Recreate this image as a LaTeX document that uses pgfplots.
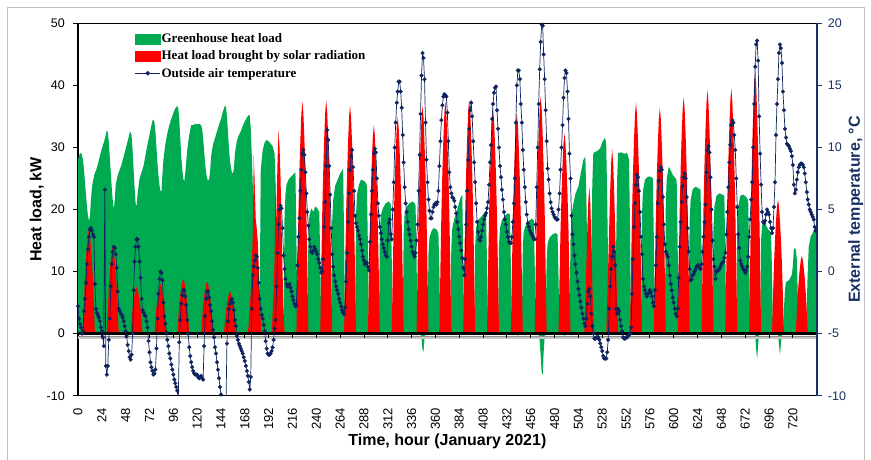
\documentclass[border=0pt]{standalone}
\usepackage{pgfplots}
\pgfplotsset{compat=1.18}
\usepackage{fontspec}
\setmainfont{Liberation Sans}
\newfontfamily\serifb{Liberation Serif}
\definecolor{ggreen}{RGB}{0,170,80}
\definecolor{rred}{RGB}{255,0,0}
\definecolor{navy}{RGB}{15,35,95}
\definecolor{axnavy}{RGB}{25,48,100}
\begin{document}
\begin{tikzpicture}
\path[use as bounding box] (0,0) rectangle (871pt,-460pt);
\draw[black!25, line width=1pt] (7pt,-460pt) -- (7pt,-8pt) -- (864pt,-8pt) -- (864pt,-460pt);
\begin{axis}[
  at={(78pt,-395.7pt)}, anchor=south west,
  scale only axis, width=738.7pt, height=372.4pt,
  xmin=0, xmax=744, ymin=-10, ymax=50,
  axis x line*=box, axis y line*=left,
  axis line style={black, line width=1.4pt},
  xtick={0,24,...,720},
  xtick style={draw=none},
  ytick={-10,0,...,50},
  ytick style={black, line width=0.9pt},
  tick align=outside,
  major tick length=5pt,
  /pgf/number format/assume math mode=true,
  xticklabel style={font=\fontsize{13}{13}\selectfont, rotate=90, anchor=east, inner sep=0pt},
  xticklabel shift=7pt,
  yticklabel style={font=\fontsize{12.5}{13}\selectfont, anchor=east, inner sep=0pt},
  yticklabel shift=8pt,
  xlabel={\bfseries Time, hour (January 2021)},
  ylabel={\bfseries Heat load, kW},
  xlabel style={font=\fontsize{16}{18}\selectfont, at={(axis description cs:0.5,-0.1216)}, anchor=center},
  ylabel style={font=\fontsize{16}{18}\selectfont, at={(axis description cs:-0.0559,0.5)}, anchor=center},
]
% Greenhouse heat load
\addplot[fill=ggreen, draw=none] coordinates {
(0,28.0) (1,28.6) (2,29.0) (3,29.1) (4,28.8) (5,28.0) (6,26.5) (7,24.5) (8,22.5) (9,20.5) (10,19.0) (11,18.2) (12,18.8) (13,21.5) (14,23.5) (15,24.5) (16,25.3) (17,25.9) (18,26.2) (20,27.3) (22,28.6) (24,29.8) (26,30.8) (28,32.0) (29,32.7) (30,32.5) (31,31.0) (32,28.5) (33,26.0) (34,23.5) (35,21.5) (36,20.0) (37,21.5) (38,24.0) (40,25.5) (42,26.4) (44,27.3) (46,28.5) (48,29.8) (50,31.0) (52,32.3) (53,32.5) (54,31.8) (55,29.5) (56,26.5) (57,23.5) (58,21.0) (59,20.5) (60,22.5) (62,25.0) (64,26.0) (66,27.0) (68,28.8) (70,30.5) (72,32.0) (74,33.6) (75,34.3) (76,34.5) (77,34.0) (78,32.5) (79,30.0) (80,27.5) (81,25.5) (82,24.0) (83,23.0) (84,22.9) (85,25.5) (86,28.0) (88,30.5) (90,32.3) (92,33.6) (94,34.6) (96,35.5) (98,36.3) (100,36.7) (101,36.3) (102,34.5) (103,31.5) (104,28.5) (105,26.5) (106,25.0) (107,24.5) (108,25.8) (110,29.5) (112,32.0) (114,33.6) (116,33.6) (118,33.8) (120,33.7) (122,33.8) (124,33.6) (125,33.0) (126,31.5) (127,29.5) (128,27.5) (129,26.0) (130,25.0) (131,24.7) (132,24.8) (133,26.0) (134,28.5) (136,30.5) (138,31.5) (140,32.6) (142,33.6) (144,34.6) (146,35.8) (148,36.7) (149,36.6) (150,35.0) (151,32.5) (152,30.0) (153,28.0) (154,26.8) (155,26.0) (156,25.8) (157,26.5) (158,29.0) (160,31.0) (162,32.0) (164,32.6) (166,33.5) (168,34.2) (170,34.8) (172,35.2) (173,35.2) (174,33.0) (175,29.0) (176,24.2) (177,18.0) (178,12.0) (179,6.0) (180,2.0) (181,0.5) (182,0) (183,4.0) (184,26.0) (185,28.0) (186,29.5) (188,30.8) (190,31.2) (192,31.0) (194,30.6) (196,30.2) (198,29.0) (199,24.0) (200,12.0) (201,3.0) (202,0)
(207,0) (208,19.0) (209,22.5) (210,24.0) (212,24.8) (214,25.2) (216,25.5) (218,25.9) (219,26.0) (220,15.0) (221,0)
(231,0) (232,15.0) (233,19.0) (235,20.2) (237,19.6) (239,20.5) (241,20.2) (243,19.6) (244,12.0) (245,0)
(255,0) (256,18.0) (257,21.5) (259,23.8) (262,25.0) (264,25.8) (266,26.3) (267,26.6) (268,16.0) (269,0)
(279,0) (280,19.0) (281,22.5) (283,24.0) (285,24.8) (288,24.6) (290,24.3) (291,23.8) (292,14.0) (293,0)
(303,0) (304,16.0) (305,19.0) (307,20.2) (310,21.0) (313,21.3) (315,20.8) (316,12.0) (317,0)
(327,0) (328,16.0) (329,19.5) (331,20.5) (334,21.0) (337,21.3) (339,21.0) (340,20.6) (341,12.0) (342,0)
(345,0) (346,-0.8) (347,-2.6) (348,-2.9) (349,-0.8) (350,0) (352,0) (353,13.0) (354,15.5) (356,16.5) (358,17.0) (361,16.8) (363,16.2) (364,10.0) (365,0)
(375,0) (376,14.0) (377,17.0) (379,18.5) (382,20.0) (385,21.8) (387,22.4) (388,13.0) (389,0)
(399,0) (400,14.0) (401,17.0) (403,18.3) (406,18.8) (409,19.4) (411,19.2) (412,11.0) (413,0)
(423,0) (424,14.0) (425,17.0) (427,18.3) (430,19.0) (433,19.4) (435,19.2) (436,11.0) (437,0)
(442,0) (443,-0.4) (444,0) (447,0) (448,14.0) (449,16.5) (451,17.5) (454,18.2) (457,18.5) (459,18.3) (460,11.0) (461,0)
(464,0) (465,-1.2) (466,-3.5) (467,-6.2) (468,-6.7) (469,-3.0) (470,-0.5) (471,0) (472,12.0) (473,14.5) (475,15.5) (478,16.0) (481,16.2) (483,16.0) (484,9.0) (485,0)
(489,0) (490,-0.4) (491,0) (495,0) (496,15.0) (497,19.0) (499,21.0) (501,22.5) (504,23.7) (506,25.5) (508,27.2) (509,28.0) (511,28.5) (512,22.0) (513,12.0) (514,4.0) (515,2.0) (516,5.0) (517,14.0) (518,24.0) (519,29.1) (521,29.3) (523,29.4) (526,29.9) (528,30.8) (530,31.4) (531,31.5) (532,30.5) (533,22.0) (534,10.0) (535,0)
(541,0) (542,14.0) (543,25.0) (544,29.1) (547,29.2) (550,29.0) (553,29.1) (555,28.0) (556,17.0) (557,0)
(567,0) (568,19.0) (569,23.0) (571,24.8) (574,25.3) (577,25.3) (579,25.0) (580,15.0) (581,0)
(591,0) (592,21.0) (593,25.0) (595,26.9) (597,26.3) (599,25.6) (602,25.0) (603,24.6) (604,14.0) (605,0)
(615,0) (616,18.0) (617,21.5) (619,23.2) (622,23.7) (625,23.4) (627,23.2) (628,14.0) (629,0)
(639,0) (640,17.0) (641,20.5) (643,22.2) (646,22.6) (649,22.4) (651,22.2) (652,13.0) (653,0)
(663,0) (664,17.0) (665,20.5) (667,22.2) (670,22.4) (673,22.0) (675,21.5) (676,13.0) (677,0)
(682,0) (683,-2.5) (684,-4.0) (685,-2.0) (686,0) (687,0) (688,15.0) (689,17.5) (691,18.3) (693,17.5) (695,16.8) (697,16.5) (698,16.3) (699,10.0) (700,0)
(705,0) (706,-1.8) (707,-3.4) (708,-1.5) (709,0) (710,0) (711,4.0) (712,7.0) (713,8.3) (716,8.6) (719,9.5) (720,11.0) (721,13.5) (722,13.8) (723,13.5) (724,12.0) (725,6.0) (726,0)
(733,0) (734,5.0) (735,10.0) (736,14.0) (738,15.7) (740,16.2) (742,17.0) (744,17.3)
} \closedcycle;
% Heat load brought by solar radiation
\addplot[fill=rred, draw=none] coordinates {
(0,0) (5,0) (6,4.7) (7,8.7) (8,11.8) (9,14.1) (10,16.0) (11,16.8) (12,16.0) (13,14.1) (14,11.8) (15,8.7) (16,4.7) (17,0)
(29,0) (30,3.9) (31,7.3) (32,9.8) (33,11.8) (34,13.3) (35,14.0) (36,13.3) (37,11.8) (38,9.8) (39,7.3) (40,3.9) (41,0)
(53,0) (54,2.1) (55,4.0) (56,5.3) (57,6.4) (58,7.2) (59,7.6) (60,7.2) (61,6.4) (62,5.3) (63,4.0) (64,2.1) (65,0)
(77,0) (78,2.2) (79,4.2) (80,5.6) (81,6.7) (82,7.6) (83,8.0) (84,7.6) (85,6.7) (86,5.6) (87,4.2) (88,2.2) (89,0)
(100,0) (101,2.5) (102,4.6) (103,6.2) (104,7.4) (105,8.4) (106,8.8) (107,8.4) (108,7.4) (109,6.2) (110,4.6) (111,2.5) (112,0)
(124,0) (125,2.4) (126,4.4) (127,5.9) (128,7.1) (129,8.0) (130,8.4) (131,8.0) (132,7.1) (133,5.9) (134,4.4) (135,2.4) (136,0)
(147,0) (148,1.9) (149,3.5) (150,4.8) (151,5.7) (152,6.5) (153,6.8) (154,6.5) (155,5.7) (156,4.8) (157,3.5) (158,1.9) (159,0)
(171,0) (172,1.5) (173,4.0) (174,7.0) (175,11.0) (176,16.0) (177,28.7) (178,24.0) (179,18.5) (180,17.0) (181,15.0) (182,11.0) (183,6.0) (184,2.0) (185,0)
(195,0) (196,3.0) (197,7.0) (198,12.0) (199,25.3) (199.6,16.0) (200,21.0) (201,28.0) (202,32.8) (203,30.0) (204,25.0) (205,18.0) (206,10.0) (207,4.0) (208,0)
(220,0) (221,10.5) (222,19.4) (223,26.2) (224,31.4) (225,35.5) (226,37.4) (227,35.5) (228,31.4) (229,26.2) (230,19.4) (231,10.5) (232,0)
(244,0) (245,10.5) (246,19.6) (247,26.3) (248,31.6) (249,35.7) (250,37.6) (251,35.7) (252,31.6) (253,26.3) (254,19.6) (255,10.5) (256,0)
(268,0) (269,10.3) (270,19.1) (271,25.7) (272,30.8) (273,34.9) (274,36.7) (275,34.9) (276,30.8) (277,25.7) (278,19.1) (279,10.3) (280,0)
(292,0) (293,9.4) (294,17.5) (295,23.5) (296,28.2) (297,31.9) (298,33.6) (299,31.9) (300,28.2) (301,23.5) (302,17.5) (303,9.4) (304,0)
(316,0) (317,9.8) (318,18.1) (319,24.4) (320,29.3) (321,33.2) (322,34.9) (323,33.2) (324,29.3) (325,24.4) (326,18.1) (327,9.8) (328,0)
(341,0) (342,10.3) (343,19.1) (344,25.7) (345,30.8) (346,34.9) (347,36.7) (348,34.9) (349,30.8) (350,25.7) (351,19.1) (352,10.3) (353,0)
(364,0) (365,10.5) (366,19.4) (367,26.2) (368,31.4) (369,35.5) (370,37.4) (371,35.5) (372,31.4) (373,26.2) (374,19.4) (375,10.5) (376,0)
(388,0) (389,10.6) (390,19.6) (391,26.4) (392,31.7) (393,35.8) (394,37.7) (395,35.8) (396,31.7) (397,26.4) (398,19.6) (399,10.6) (400,0)
(412,0) (413,10.2) (414,18.9) (415,25.4) (416,30.5) (417,34.5) (418,36.3) (419,34.5) (420,30.5) (421,25.4) (422,18.9) (423,10.2) (424,0)
(436,0) (437,9.9) (438,18.5) (439,24.9) (440,29.8) (441,33.7) (442,35.5) (443,33.7) (444,29.8) (445,24.9) (446,18.5) (447,9.9) (448,0)
(460,0) (461,10.7) (462,19.9) (463,26.7) (464,32.1) (465,36.3) (466,38.2) (467,36.3) (468,32.1) (469,26.7) (470,19.9) (471,10.7) (472,0)
(484,0) (485,9.0) (486,16.8) (487,22.6) (488,27.1) (489,30.7) (490,32.3) (491,30.7) (492,27.1) (493,22.6) (494,16.8) (495,9.0) (496,0)
(510,0) (511,5.0) (512,11.0) (513,17.0) (514,21.5) (515,23.6) (516,21.0) (517,15.0) (518,8.0) (519,3.0) (520,0)
(532,0) (533,5.0) (534,11.0) (535,17.0) (536,23.0) (537,27.5) (538,29.8) (539,27.5) (540,23.0) (541,17.0) (542,11.0) (543,5.0) (544,0)
(556,0) (557,10.4) (558,19.3) (559,26.0) (560,31.2) (561,35.3) (562,37.2) (563,35.3) (564,31.2) (565,26.0) (566,19.3) (567,10.4) (568,0)
(580,0) (581,10.2) (582,18.9) (583,25.5) (584,30.6) (585,34.6) (586,36.4) (587,34.6) (588,30.6) (589,25.5) (590,18.9) (591,10.2) (592,0)
(604,0) (605,10.7) (606,19.8) (607,26.7) (608,32.0) (609,36.2) (610,38.1) (611,36.2) (612,32.0) (613,26.7) (614,19.8) (615,10.7) (616,0)
(628,0) (629,11.0) (630,20.4) (631,27.4) (632,32.9) (633,37.2) (634,39.2) (635,37.2) (636,32.9) (637,27.4) (638,20.4) (639,11.0) (640,0)
(652,0) (653,11.1) (654,20.5) (655,27.7) (656,33.2) (657,37.5) (658,39.5) (659,37.5) (660,33.2) (661,27.7) (662,20.5) (663,11.1) (664,0)
(676,0) (677,11.8) (678,22.0) (679,29.6) (680,35.5) (681,40.2) (682,42.3) (683,40.2) (684,35.5) (685,29.6) (686,22.0) (687,11.8) (688,0)
(699,0) (700,6.0) (701,11.2) (702,15.1) (703,18.1) (704,20.5) (705,21.6) (706,20.5) (707,18.1) (708,15.1) (709,11.2) (710,6.0) (711,0)
(723,0) (724,3.5) (725,6.5) (726,8.8) (727,10.5) (728,11.9) (729,12.5) (730,11.9) (731,10.5) (732,8.8) (733,6.5) (734,3.5) (735,0) (744,0)
} \closedcycle;
% horizontal axis at zero with shadow
\draw[black!22, line width=2pt] (axis cs:0,-0.75) -- (axis cs:744,-0.75);
\draw[black!45, line width=1.2pt] (axis cs:0,-0.45) -- (axis cs:744,-0.45);
\draw[black, line width=2.6pt] (axis cs:0,0) -- (axis cs:744,0);
\pgfplotsinvokeforeach{24,48,...,720}{\draw[black, line width=0.9pt] (axis cs:#1,0) -- ++(0pt,-4pt);}
\end{axis}
\begin{axis}[
  at={(78pt,-395.7pt)}, anchor=south west,
  scale only axis, width=738.7pt, height=372.4pt,
  xmin=0, xmax=744, ymin=-10, ymax=20,
  axis x line=none, axis y line*=right,
  y axis line style={axnavy, line width=2.2pt},
  ytick={-10,-5,...,20},
  ytick style={axnavy, line width=1.2pt},
  tick align=outside, major tick length=5pt,
  /pgf/number format/assume math mode=true,
  yticklabel style={font=\fontsize{12.5}{13}\selectfont, text=axnavy, anchor=west, inner sep=0pt},
  yticklabel shift=6pt,
  ylabel={\bfseries External temperature, °C},
  ylabel style={font=\fontsize{16}{18}\selectfont, text=axnavy, at={(axis description cs:1.0529,0.5)}, anchor=center},
  legend style={at={(axis description cs:0.0768,0.975)}, anchor=north west, draw=none, fill=none,
    font=\serifb\bfseries\fontsize{13}{14}\selectfont, row sep=4.6pt, inner sep=0pt, nodes={inner sep=1pt}},
  legend cell align=left,
]
\addlegendimage{legend image code/.code={\fill[ggreen] (0pt,-4.7pt) rectangle (25pt,4.7pt);}}
\addlegendentry{Greenhouse heat load}
\addlegendimage{legend image code/.code={\fill[rred] (0pt,-4.7pt) rectangle (25pt,4.7pt);}}
\addlegendentry{Heat load brought by solar radiation}
\addplot[navy, line width=0.7pt, mark=*, mark size=1.9pt, mark options={fill=navy, draw=navy, line width=0.3pt},
  legend image code/.code={\draw[navy, line width=0.7pt] (0pt,0pt) -- (25pt,0pt); \fill[navy] (12.5pt,0pt) circle (1.9pt);}]
coordinates {
(0,-2.8) (1,-3.8) (2,-4.2) (3,-4.5) (4,-5.0) (5,-4.8) (6,-3.2) (7,-2.2) (8,-0.9) (9,0.6) (10,1.8) (11,2.8) (12,3.4) (13,3.5) (14,3.3) (15,3.0) (16,2.8) (17,-1.0) (18,-3.0) (19,-3.3) (20,-3.5) (21,-3.7) (22,-4.0) (23,-4.5)
(24,-4.8) (25,-5.3) (26,-6.0) (27,6.6) (28,-7.6) (29,-8.3) (30,-7.6) (31,-5.5) (32,-3.8) (33,-1.2) (34,0.6) (35,1.6) (36,2.0) (37,1.9) (38,1.4) (39,0.3) (40,-1.6) (41,-3.0) (42,-3.2) (43,-3.4) (44,-3.5) (45,-3.7) (46,-4.0) (47,-4.4)
(48,-4.8) (49,-5.2) (50,-5.9) (51,-6.4) (52,-6.9) (53,-7.1) (54,-6.7) (55,-5.0) (56,-1.5) (57,0.8) (58,2.0) (59,2.6) (60,2.6) (61,2.0) (62,0.8) (63,-0.5) (64,-2.2) (65,-3.1) (66,-3.3) (67,-3.5) (68,-3.6) (69,-4.0) (70,-4.5) (71,-5.6)
(72,-6.5) (73,-7.3) (74,-7.7) (75,-8.0) (76,-8.3) (77,-8.2) (78,-7.9) (79,-6.2) (80,-3.8) (81,-1.8) (82,-0.6) (83,0.0) (84,-0.1) (85,-0.7) (86,-2.5) (87,-3.6) (88,-4.2) (89,-4.9) (90,-5.5) (91,-6.0) (92,-6.6) (93,-7.0) (94,-7.5) (95,-7.9)
(96,-8.3) (97,-8.7) (98,-9.0) (99,-9.3) (100,-9.6) (101,-10.4) (102,-5.7) (103,-3.9) (104,-2.6) (105,-1.9) (106,-1.5) (107,-1.5) (108,-2.0) (109,-2.7) (110,-3.9) (111,-5.0) (112,-6.1) (113,-6.8) (114,-7.3) (115,-7.7) (116,-8.0) (117,-8.2) (118,-8.3) (119,-8.3)
(120,-8.3) (121,-8.5) (122,-8.6) (123,-8.5) (124,-8.4) (125,-8.6) (126,-8.7) (127,-6.0) (128,-3.6) (129,-2.2) (130,-1.6) (131,-1.6) (132,-2.1) (133,-2.7) (134,-3.2) (135,-4.0) (136,-4.7) (137,-5.3) (138,-6.1) (139,-6.6) (140,-7.3) (141,-7.9) (142,-8.6) (143,-9.3)
(144,-9.9) (145,-10.3) (146,-10.6) (147,-10.8) (148,-11.0) (149,-11.0) (150,-5.8) (151,-4.0) (152,-3.0) (153,-2.6) (154,-2.3) (155,-2.2) (156,-2.5) (157,-3.1) (158,-3.9) (159,-4.4) (160,-5.2) (161,-5.5) (162,-5.8) (163,-6.0) (164,-6.2) (165,-6.4) (166,-6.6) (167,-6.9)
(168,-7.2) (169,-7.6) (170,-8.0) (171,-8.4) (172,-8.9) (173,-9.5) (174,-8.5) (175,-3.0) (176,-0.3) (177,0.4) (178,0.9) (179,1.3) (180,1.2) (181,0.3) (182,-0.9) (183,-2.2) (184,-3.0) (185,-3.5) (186,-3.8) (187,-4.3) (188,-4.8) (189,-5.6) (190,-6.2) (191,-6.6)
(192,-6.7) (193,-6.7) (194,-6.6) (195,-6.4) (196,-6.1) (197,-5.5) (198,-4.6) (199,-3.9) (200,-1.2) (201,1.5) (202,3.8) (203,5.0) (204,5.3) (205,5.1) (206,3.5) (207,1.3) (208,0.2) (209,-0.6) (210,-1.0) (211,-1.2) (212,-1.1) (213,-1.0) (214,-1.3) (215,-1.6)
(216,-2.0) (217,-2.3) (218,-2.6) (219,-2.8) (220,-2.7) (221,0.5) (222,2.8) (223,4.3) (224,6.5) (225,8.2) (226,9.5) (227,9.8) (228,9.4) (229,8.0) (230,6.3) (231,4.8) (232,3.7) (233,2.6) (234,2.0) (235,1.6) (236,1.5) (237,1.7) (238,2.0) (239,1.8)
(240,1.6) (241,1.4) (242,1.0) (243,0.7) (244,0.3) (245,-0.1) (246,0.0) (247,1.0) (248,3.6) (249,5.6) (250,8.5) (251,11.4) (252,10.6) (253,8.5) (254,6.2) (255,3.5) (256,1.4) (257,0.4) (258,-0.3) (259,-0.8) (260,-1.2) (261,-1.5) (262,-1.8) (263,-2.2)
(264,-2.5) (265,-2.8) (266,-3.1) (267,-3.3) (268,-3.4) (269,-2.9) (270,-0.8) (271,1.5) (272,4.0) (273,6.3) (274,8.2) (275,9.3) (276,9.8) (277,8.4) (278,6.5) (279,4.5) (280,3.9) (281,3.6) (282,3.3) (283,2.9) (284,2.6) (285,2.2) (286,1.7) (287,1.2)
(288,0.9) (289,0.6) (290,0.7) (291,0.7) (292,0.4) (293,0.1) (294,2.4) (295,4.6) (296,6.5) (297,8.2) (298,9.5) (299,9.9) (300,9.6) (301,7.5) (302,5.5) (303,4.5) (304,3.6) (305,3.1) (306,2.6) (307,2.2) (308,1.9) (309,1.6) (310,1.3) (311,1.2)
(312,2.5) (313,3.9) (314,4.2) (315,3.0) (316,2.6) (317,5.0) (318,7.2) (319,10.0) (320,12.0) (321,13.6) (322,14.5) (323,15.3) (324,15.3) (325,14.5) (326,13.2) (327,11.0) (328,8.8) (329,6.8) (330,5.5) (331,4.8) (332,4.0) (333,3.4) (334,3.0) (335,2.5)
(336,2.0) (337,1.6) (338,1.4) (339,1.2) (340,1.5) (341,2.5) (342,3.8) (343,6.5) (344,9.4) (345,12.7) (346,15.8) (347,17.6) (348,17.2) (349,15.5) (350,12.0) (351,9.0) (352,7.2) (353,5.8) (354,4.9) (355,4.3) (356,4.3) (357,4.8) (358,5.2) (359,5.4)
(360,5.5) (361,5.4) (362,5.6) (363,6.5) (364,8.5) (365,10.5) (366,12.2) (367,13.4) (368,14.1) (369,14.3) (370,14.2) (371,14.1) (372,12.8) (373,10.5) (374,8.0) (375,6.8) (376,6.3) (377,6.0) (378,5.9) (379,5.7) (380,5.2) (381,4.7) (382,4.0) (383,3.4)
(384,2.8) (385,2.3) (386,1.7) (387,1.1) (388,0.3) (389,-0.3) (390,1.0) (391,3.8) (392,6.5) (393,9.0) (394,11.5) (395,13.0) (396,13.6) (397,12.5) (398,10.5) (399,8.8) (400,7.2) (401,5.5) (402,4.0) (403,3.2) (404,2.6) (405,2.5) (406,2.8) (407,3.3)
(408,3.8) (409,4.2) (410,4.5) (411,4.7) (412,5.1) (413,5.6) (414,7.0) (415,8.8) (416,10.2) (417,12.3) (418,13.5) (419,14.4) (420,14.8) (421,14.9) (422,13.0) (423,11.5) (424,10.0) (425,8.5) (426,7.6) (427,6.6) (428,5.8) (429,4.8) (430,4.2) (431,3.8)
(432,3.2) (433,2.8) (434,2.4) (435,2.3) (436,2.3) (437,2.8) (438,4.0) (439,5.5) (440,7.5) (441,12.0) (442,15.0) (443,16.2) (444,16.2) (445,15.5) (446,13.5) (447,12.0) (448,9.8) (449,8.2) (450,6.8) (451,5.6) (452,4.6) (453,3.9) (454,3.6) (455,3.3)
(456,3.1) (457,3.0) (458,2.8) (459,2.6) (460,2.6) (461,3.8) (462,6.8) (463,10.0) (464,13.5) (465,16.3) (466,18.5) (467,19.9) (468,19.8) (469,17.5) (470,15.5) (471,13.0) (472,10.5) (473,8.3) (474,7.4) (475,6.3) (476,5.6) (477,5.1) (478,4.8) (479,4.6)
(480,4.4) (481,4.3) (482,4.2) (483,4.2) (484,5.0) (485,6.3) (486,8.2) (487,10.0) (488,11.8) (489,14.0) (490,15.6) (491,16.2) (492,16.0) (493,14.5) (494,12.3) (495,9.5) (496,7.5) (497,4.5) (498,3.0) (499,2.2) (500,1.3) (501,0.6) (502,-0.1) (503,-0.8)
(504,-1.4) (505,-1.9) (506,-2.4) (507,-2.9) (508,-3.4) (509,-3.8) (510,-4.2) (511,-4.4) (512,-3.8) (513,-2.6) (514,-1.6) (515,-1.4) (516,-2.0) (517,-3.4) (518,-4.4) (519,-5.0) (520,-5.4) (521,-5.4) (522,-5.3) (523,-5.3) (524,-5.3) (525,-5.5) (526,-5.8) (527,-6.1)
(528,-6.4) (529,-6.8) (530,-7.0) (531,-7.0) (532,-7.0) (533,-6.5) (534,-5.5) (535,-3.0) (536,-1.2) (537,0.2) (538,1.2) (539,2.0) (540,1.6) (541,0.5) (542,-3.0) (543,-3.4) (544,-3.0) (545,-3.2) (546,-3.9) (547,-4.4) (548,-4.8) (549,-5.3) (550,-5.4) (551,-5.4)
(552,-5.3) (553,-5.3) (554,-5.2) (555,-5.1) (556,-5.0) (557,-4.5) (558,-1.8) (559,1.0) (560,3.6) (561,5.5) (562,7.0) (563,7.8) (564,7.6) (565,6.5) (566,4.8) (567,2.8) (568,1.4) (569,-0.6) (570,-1.2) (571,-1.5) (572,-1.8) (573,-2.0) (574,-1.8) (575,-1.7)
(576,-1.5) (577,-1.7) (578,-2.0) (579,-2.5) (580,-2.8) (581,-1.5) (582,0.5) (583,2.8) (584,5.5) (585,7.3) (586,8.1) (587,8.4) (588,8.2) (589,6.0) (590,3.8) (591,2.2) (592,1.6) (593,1.4) (594,1.2) (595,0.5) (596,-0.3) (597,-1.0) (598,-1.5) (599,-2.1)
(600,-2.5) (601,-3.0) (602,-3.4) (603,-3.6) (604,-3.0) (605,-0.5) (606,2.0) (607,4.0) (608,5.6) (609,6.9) (610,7.6) (611,7.9) (612,7.5) (613,6.0) (614,3.5) (615,1.6) (616,0.2) (617,-0.7) (618,-0.6) (619,-0.3) (620,-0.2) (621,0.0) (622,0.2) (623,0.4)
(624,0.5) (625,0.5) (626,0.3) (627,0.2) (628,0.6) (629,1.6) (630,2.8) (631,4.0) (632,5.4) (633,8.0) (634,9.8) (635,10.1) (636,9.6) (637,7.6) (638,5.0) (639,2.5) (640,1.0) (641,0.4) (642,-0.6) (643,0.0) (644,0.1) (645,0.1) (646,0.2) (647,0.4)
(648,0.6) (649,0.7) (650,0.8) (651,1.1) (652,1.5) (653,3.0) (654,4.8) (655,6.8) (656,8.8) (657,10.2) (658,11.8) (659,12.2) (660,12.0) (661,11.0) (662,9.8) (663,7.5) (664,5.2) (665,3.0) (666,1.9) (667,0.9) (668,0.6) (669,0.4) (670,0.2) (671,0.1)
(672,-0.1) (673,0.1) (674,0.4) (675,1.2) (676,2.8) (677,4.2) (678,5.8) (679,7.2) (680,10.0) (681,13.5) (682,16.5) (683,18.3) (684,18.6) (685,17.0) (686,12.5) (687,9.5) (688,7.0) (689,4.8) (690,4.0) (691,3.9) (692,4.1) (693,4.6) (694,5.0) (695,4.8)
(696,4.6) (697,4.0) (698,3.5) (699,3.1) (700,3.5) (701,5.2) (702,7.2) (703,11.0) (704,13.5) (705,15.5) (706,17.6) (707,18.3) (708,18.0) (709,16.8) (710,14.5) (711,13.0) (712,11.5) (713,10.8) (714,10.3) (715,10.2) (716,10.1) (717,9.9) (718,9.7) (719,9.3)
(720,8.6) (721,7.0) (722,6.3) (723,6.6) (724,7.4) (725,8.0) (726,8.4) (727,8.6) (728,8.7) (729,8.7) (730,8.6) (731,8.4) (732,7.9) (733,7.2) (734,6.4) (735,5.8) (736,5.4) (737,5.0) (738,4.8) (739,4.6) (740,4.4) (741,4.2) (742,3.6) (743,3.3)
};
\addlegendentry{Outside air temperature}
\end{axis}
\end{tikzpicture}
\end{document}
